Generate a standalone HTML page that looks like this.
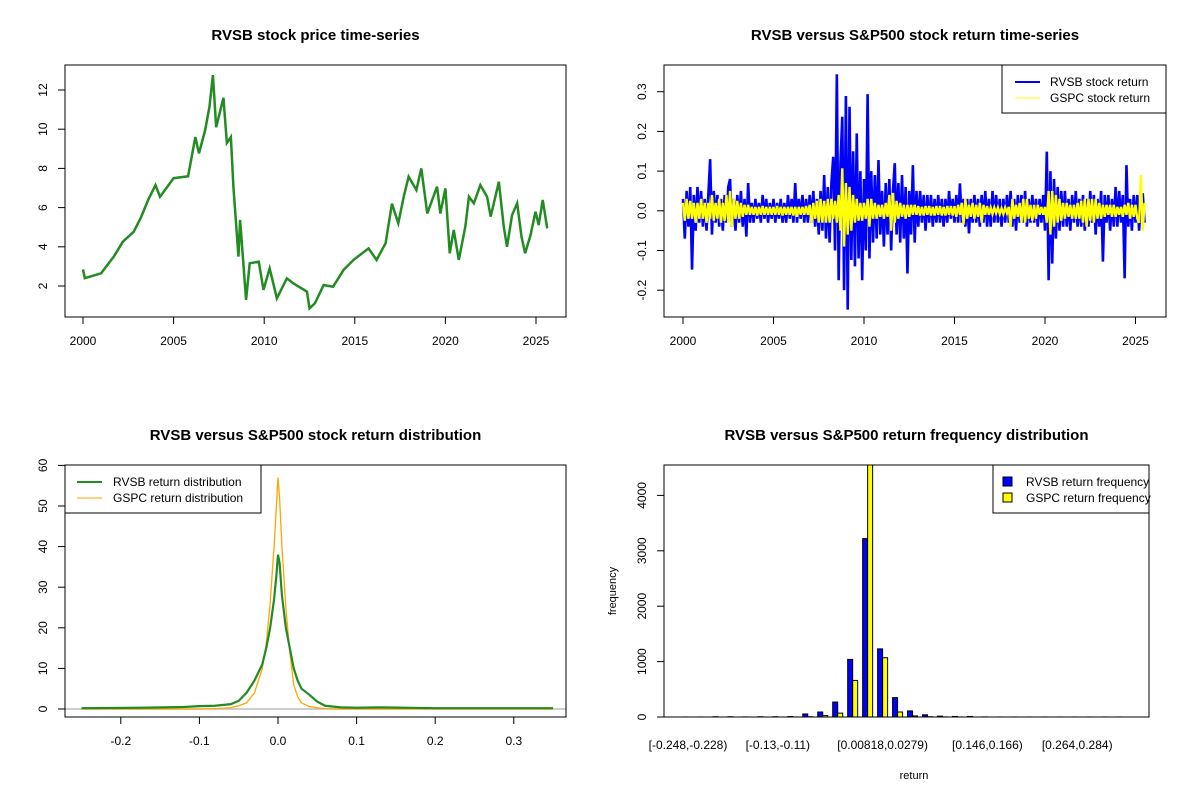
<!DOCTYPE html>
<html><head><meta charset="utf-8">
<style>
html,body{margin:0;padding:0;background:#fff;}
svg{display:block;font-family:"Liberation Sans",Arial,sans-serif;}
text{fill:#000;}
</style></head>
<body>
<svg id="chart" width="1200" height="800" viewBox="0 0 1200 800"></svg>
<script>
// ---------- DATA ----------
const priceYears = [2000.0,2000.1,2001.0,2001.7,2002.2,2002.8,2003.2,2003.6,2004.0,2004.25,2005.0,2005.8,2006.2,2006.4,2006.74,2006.98,2007.17,2007.35,2007.75,2007.94,2008.16,2008.3,2008.58,2008.67,2009.0,2009.2,2009.7,2009.96,2010.3,2010.7,2011.25,2011.6,2012.36,2012.5,2012.8,2013.28,2013.8,2014.38,2014.93,2015.76,2016.2,2016.7,2017.05,2017.4,2017.7,2017.97,2018.4,2018.67,2019.0,2019.54,2019.72,2020.0,2020.24,2020.46,2020.74,2021.1,2021.3,2021.57,2021.93,2022.3,2022.5,2022.95,2023.22,2023.4,2023.68,2023.96,2024.2,2024.4,2024.7,2024.97,2025.15,2025.37,2025.62];
const priceValues = [2.85,2.4,2.65,3.5,4.26,4.77,5.5,6.4,7.15,6.55,7.5,7.6,9.6,8.77,9.95,11.15,12.76,10.1,11.6,9.3,9.6,7.07,3.5,5.37,1.29,3.16,3.24,1.8,2.9,1.37,2.39,2.14,1.71,0.86,1.12,2.05,1.96,2.82,3.33,3.92,3.33,4.18,6.2,5.2,6.55,7.58,6.9,8.0,5.7,7.07,5.7,6.98,3.67,4.86,3.33,5.03,6.55,6.22,7.15,6.55,5.54,7.32,5.03,4.0,5.62,6.22,4.52,3.67,4.6,5.79,5.11,6.39,4.94];
const priceTicks = [2,4,6,8,10,12];
const yearTicks = [2000,2005,2010,2015,2020,2025];

// returns: one value per 0.1 year starting 2000.0
const rvsbReturns = [
0.03,-0.07,0.05,-0.04,0.06,-0.148,0.04,-0.05,0.06,-0.03,
0.05,-0.04,0.03,-0.05,0.04,0.13,-0.06,0.05,-0.03,0.04,
-0.04,0.03,-0.05,0.04,-0.03,0.06,0.08,-0.04,0.03,-0.05,
0.04,-0.03,0.05,-0.04,0.03,-0.065,0.07,-0.03,0.02,-0.03,
0.03,-0.02,0.02,-0.03,0.04,-0.02,0.03,-0.03,0.02,-0.02,
0.03,-0.03,0.02,-0.02,0.03,-0.03,0.02,-0.03,0.04,-0.02,
0.03,-0.03,0.07,-0.03,0.03,-0.02,0.04,-0.03,0.03,-0.03,
0.04,-0.03,0.05,-0.04,0.03,-0.06,0.05,-0.05,0.09,-0.07,
0.06,-0.08,0.07,0.136,-0.1,0.344,-0.175,0.12,0.237,-0.2,
0.289,-0.249,0.262,-0.124,0.15,-0.14,0.195,-0.12,0.1,-0.175,
0.08,-0.1,0.294,-0.12,0.1,-0.08,0.09,-0.07,0.128,-0.06,
0.05,-0.09,0.07,-0.06,0.08,-0.1,0.05,0.12,-0.06,0.07,
-0.08,0.09,-0.07,0.06,-0.158,0.05,-0.06,0.115,-0.08,0.05,
-0.04,0.05,-0.03,0.04,-0.05,0.04,-0.03,0.04,-0.04,0.03,
-0.03,0.04,-0.03,0.03,-0.04,0.03,-0.03,0.05,-0.02,0.03,
-0.03,0.04,-0.03,0.069,-0.03,0.03,-0.04,0.03,-0.057,0.03,
-0.03,0.04,-0.03,0.03,-0.04,0.04,-0.03,0.05,-0.04,0.03,
-0.04,0.05,-0.03,0.04,-0.03,0.03,-0.04,0.03,-0.03,0.04,
-0.03,0.05,-0.04,0.03,-0.05,0.04,-0.03,0.04,-0.03,0.05,
-0.04,0.03,-0.03,0.04,-0.03,0.03,-0.04,0.03,-0.03,0.04,
-0.05,0.149,-0.175,0.1,-0.133,0.08,-0.07,0.06,-0.05,0.05,
-0.04,0.05,-0.04,0.03,-0.05,0.04,-0.03,0.05,-0.04,0.03,
-0.04,0.04,-0.05,0.03,-0.04,0.05,-0.03,0.04,-0.06,0.03,
-0.04,0.05,-0.128,0.04,-0.03,0.04,-0.05,0.03,-0.04,0.06,
-0.04,0.05,-0.03,0.04,-0.17,0.115,-0.04,0.03,-0.05,0.04,
-0.03,0.04,-0.05,0.03,0.044,-0.03];
const gspcReturns = [
0.02,-0.025,0.03,-0.02,0.025,-0.02,0.02,-0.03,0.02,-0.02,
0.03,-0.02,0.02,-0.03,0.02,-0.02,0.04,-0.025,0.02,-0.02,
0.03,-0.03,0.02,-0.025,0.04,-0.03,0.05,-0.04,0.03,-0.02,
0.025,-0.02,0.02,-0.015,0.015,-0.01,0.015,-0.01,0.01,-0.01,
0.01,-0.012,0.01,-0.01,0.012,-0.01,0.01,-0.01,0.01,-0.01,
0.01,-0.01,0.012,-0.01,0.01,-0.012,0.01,-0.01,0.01,-0.01,
0.01,-0.012,0.01,-0.015,0.01,-0.01,0.01,-0.01,0.012,-0.01,
0.015,-0.03,0.02,-0.02,0.025,-0.03,0.03,-0.03,0.025,-0.03,
0.03,-0.03,0.03,-0.02,0.025,-0.03,0.04,-0.05,0.107,-0.09,
0.07,-0.06,0.06,-0.05,0.04,-0.03,0.03,-0.025,0.02,-0.025,
0.02,-0.02,0.03,-0.04,0.03,-0.02,0.02,-0.02,0.015,-0.015,
0.015,-0.02,0.02,-0.015,0.04,-0.05,0.045,-0.03,0.025,-0.02,
0.02,-0.015,0.015,-0.02,0.015,-0.015,0.015,-0.01,0.015,-0.01,
0.012,-0.012,0.01,-0.012,0.012,-0.01,0.012,-0.012,0.01,-0.012,
0.012,-0.01,0.012,-0.012,0.01,-0.012,0.012,-0.01,0.012,-0.012,
0.012,-0.015,0.015,-0.01,0.02,-0.035,0.03,-0.02,0.015,-0.015,
0.02,-0.02,0.015,-0.015,0.02,-0.03,0.015,-0.01,0.012,-0.01,
0.008,-0.008,0.008,-0.006,0.008,-0.008,0.006,-0.008,0.008,-0.006,
0.01,-0.04,0.03,-0.02,0.015,-0.015,0.02,-0.03,0.03,-0.03,
0.03,-0.02,0.015,-0.025,0.015,-0.02,0.015,-0.01,0.01,-0.01,
0.01,-0.03,0.05,-0.06,0.05,-0.04,0.04,-0.03,0.03,-0.025,
0.02,-0.02,0.02,-0.015,0.015,-0.02,0.015,-0.02,0.02,-0.02,
0.025,-0.03,0.03,-0.04,0.03,-0.025,0.03,-0.03,0.03,-0.02,
0.02,-0.02,0.015,-0.015,0.015,-0.01,0.015,-0.015,0.015,-0.015,
0.01,-0.01,0.01,-0.015,0.015,-0.01,0.02,-0.02,0.015,-0.015,
0.015,-0.02,-0.03,0.09,-0.05,0.02];
const returnTicks = [-0.2,-0.1,0.0,0.1,0.2,0.3];
const returnTickLabels = ["-0.2","-0.1","0.0","0.1","0.2","0.3"];

const densX = [-0.25,-0.175,-0.12,-0.1,-0.08,-0.06,-0.05,-0.04,-0.03,-0.02,-0.015,-0.01,-0.005,-0.002,0,0.002,0.005,0.01,0.015,0.02,0.025,0.03,0.04,0.05,0.06,0.08,0.1,0.13,0.2,0.35];
const rvsbDensity = [0.2,0.3,0.5,0.7,0.8,1.2,2,4,7,11,15,20,27,33,38,36,28,20,15,10,7,5,3.5,1.8,0.8,0.4,0.3,0.4,0.2,0.2];
const gspcDensity = [0,0,0,0,0.1,0.3,0.8,1.5,4,10,16,26,40,50,57,52,40,25,14,6,3,1.5,0.6,0.3,0.1,0,0,0,0,0];
const densXTicks = [-0.2,-0.1,0.0,0.1,0.2,0.3];
const densXLabels = ["-0.2","-0.1","0.0","0.1","0.2","0.3"];
const densYTicks = [0,10,20,30,40,50,60];

const rvsbFreq = [1,1,5,5,2,5,5,8,55,90,270,1040,3220,1230,350,110,40,15,10,10,2,1,1,1,1,1,1,1,1,1];
const gspcFreq = [0,0,0,0,0,0,0,1,5,25,70,660,4600,1070,90,20,5,2,1,0,0,0,0,0,0,0,0,0,0,0];
const freqLabelIdx = [0,6,13,20,26];
const freqLabels = ["[-0.248,-0.228)","[-0.13,-0.11)","[0.00818,0.0279)","[0.146,0.166)","[0.264,0.284)"];
const freqTicks = [0,1000,2000,3000,4000];

// ---------- HELPERS ----------
const NS="http://www.w3.org/2000/svg";
const svg=document.getElementById('chart');
function mk(tag,attrs,parent){const e=document.createElementNS(NS,tag);for(const k in attrs)e.setAttribute(k,attrs[k]);(parent||svg).appendChild(e);return e;}
function txt(s,x,y,size,opts){const o=Object.assign({'font-size':size,'text-anchor':'middle',x:x,y:y},opts||{});const t=mk('text',o);t.textContent=s;return t;}

const P1={l:65,r:566,t:65,b:317}, P2={l:664,r:1166,t:65,b:317}, P3={l:65,r:566,t:465,b:717}, P4={l:664,r:1149,t:465,b:717};
const xYear1=y=>83+(y-2000)*18.12, yPrice=v=>325.2-v*19.6;
const xYear2=y=>683+(y-2000)*18.1, yRet=v=>210.8-v*397;
const xDens=v=>278+v*786, yDens=v=>709-v*4.06;
const yFreq=v=>717-v*0.0554, xGroup=i=>683+i*14.97;

function box(P,name){const r=mk('rect',{x:P.l,y:P.t,width:P.r-P.l,height:P.b-P.t,fill:'none',stroke:'#000','stroke-width':1});}
function title(s,P,name){const t=txt(s,(P.l+P.r)/2,P.t-25,15,{'font-weight':'bold'});}
function xAxis(P,ticks,labels,fx,name){const g=mk('g',{});
 mk('line',{x1:fx(ticks[0]),x2:fx(ticks[ticks.length-1]),y1:P.b,y2:P.b,stroke:'#000'},g);
 ticks.forEach((t,i)=>{mk('line',{x1:fx(t),x2:fx(t),y1:P.b,y2:P.b+7,stroke:'#000'},g);const tt=txt(labels[i],fx(t),P.b+28,12);g.appendChild(tt);});}
function yAxis(P,ticks,labels,fy,name){const g=mk('g',{});
 mk('line',{x1:P.l,x2:P.l,y1:fy(ticks[0]),y2:fy(ticks[ticks.length-1]),stroke:'#000'},g);
 ticks.forEach((t,i)=>{const y=fy(t);mk('line',{x1:P.l-7,x2:P.l,y1:y,y2:y,stroke:'#000'},g);const tt=txt(labels[i],P.l-18,y,12,{transform:`rotate(-90 ${P.l-18} ${y})`});g.appendChild(tt);});}
function poly(xs,ys,fx,fy,stroke,w,name,clip){const pts=xs.map((x,i)=>fx(x).toFixed(2)+','+fy(ys[i]).toFixed(2)).join(' ');const a={points:pts,fill:'none',stroke:stroke,'stroke-width':w,'stroke-linejoin':'miter'};if(clip)a['clip-path']=clip;const p=mk('polyline',a);}

const defs=mk('defs',{});
[P1,P2,P3,P4].forEach((P,i)=>{const c=mk('clipPath',{id:'c'+i},defs);mk('rect',{x:P.l,y:P.t,width:P.r-P.l,height:P.b-P.t},c);});

// ---------- PANEL 1 ----------
title('RVSB stock price time-series',P1,'price-chart-title');
poly(priceYears,priceValues,xYear1,yPrice,'#228B22',2.5,'rvsb-price-line','url(#c0)');
box(P1,'price-plot-frame');
xAxis(P1,yearTicks,yearTicks.map(String),xYear1,'price-x-axis');
yAxis(P1,priceTicks,priceTicks.map(String),yPrice,'price-y-axis');

// ---------- PANEL 2 ----------
title('RVSB versus S&P500 stock return time-series',P2,'return-chart-title');
const retYearsR=rvsbReturns.map((_,i)=>2000+i*0.1);
const retYearsG=gspcReturns.map((_,i)=>2000+i*0.1);
poly(retYearsR,rvsbReturns,xYear2,yRet,'#0000FF',2.6,'rvsb-return-line','url(#c1)');
poly(retYearsG,gspcReturns,xYear2,yRet,'#FFFF00',2.4,'gspc-return-line','url(#c1)');
box(P2,'return-plot-frame');
xAxis(P2,yearTicks,yearTicks.map(String),xYear2,'return-x-axis');
yAxis(P2,returnTicks,returnTickLabels,yRet,'return-y-axis');
{const g=mk('g',{});
 mk('rect',{x:1002,y:65,width:164,height:48,fill:'#fff',stroke:'#000'},g);
 mk('line',{x1:1015,x2:1040,y1:82,y2:82,stroke:'#0000FF','stroke-width':2},g);
 mk('line',{x1:1015,x2:1040,y1:98,y2:98,stroke:'#FFFF00','stroke-width':1},g);
 g.appendChild(txt('RVSB stock return',1050,86,12,{'text-anchor':'start'}));
 g.appendChild(txt('GSPC stock return',1050,102,12,{'text-anchor':'start'}));}

// ---------- PANEL 3 ----------
title('RVSB versus S&P500 stock return distribution',P3,'distribution-chart-title');
{const l=mk('line',{x1:P3.l,x2:P3.r,y1:yDens(0),y2:yDens(0),stroke:'#BEBEBE','stroke-width':1.5});}
poly(densX,gspcDensity,xDens,yDens,'#FFA500',1.3,'gspc-density-line','url(#c2)');
poly(densX,rvsbDensity,xDens,yDens,'#228B22',2.2,'rvsb-density-line','url(#c2)');
box(P3,'distribution-plot-frame');
xAxis(P3,densXTicks,densXLabels,xDens,'distribution-x-axis');
yAxis(P3,densYTicks,densYTicks.map(String),yDens,'distribution-y-axis');
{const g=mk('g',{});
 mk('rect',{x:65,y:465,width:196,height:48,fill:'#fff',stroke:'#000'},g);
 mk('line',{x1:77,x2:102,y1:482,y2:482,stroke:'#228B22','stroke-width':2},g);
 mk('line',{x1:77,x2:102,y1:498,y2:498,stroke:'#FFA500','stroke-width':1},g);
 g.appendChild(txt('RVSB return distribution',113,486,12,{'text-anchor':'start'}));
 g.appendChild(txt('GSPC return distribution',113,502,12,{'text-anchor':'start'}));}

// ---------- PANEL 4 ----------
title('RVSB versus S&P500 return frequency distribution',P4,'frequency-chart-title');
{const g=mk('g',{'clip-path':'url(#c3)'});
 rvsbFreq.forEach((v,i)=>{const x=xGroup(i);const b=mk('rect',{x:x,y:yFreq(v),width:5,height:717-yFreq(v),fill:'#0000FF',stroke:'#000','stroke-width':1},g);
  
  });
 gspcFreq.forEach((v,i)=>{const x=xGroup(i)+5;const b=mk('rect',{x:x,y:yFreq(v),width:5,height:717-yFreq(v),fill:'#FFFF00',stroke:'#000','stroke-width':1},g);
  
  });}
box(P4,'frequency-plot-frame');
yAxis(P4,freqTicks,freqTicks.map(String),yFreq,'frequency-y-axis');
{const g=mk('g',{});
 freqLabelIdx.forEach((idx,k)=>{g.appendChild(txt(freqLabels[k],xGroup(idx)+5,749,12));});}
{const t=txt('return',914,779,11);
 const t2=txt('frequency',616,591,11,{transform:'rotate(-90 616 591)'});}
{const g=mk('g',{});
 mk('rect',{x:993,y:465,width:156,height:48,fill:'#fff',stroke:'#000'},g);
 mk('rect',{x:1003,y:477,width:9,height:9,fill:'#0000FF',stroke:'#000'},g);
 mk('rect',{x:1003,y:493,width:9,height:9,fill:'#FFFF00',stroke:'#000'},g);
 g.appendChild(txt('RVSB return frequency',1026,486,12,{'text-anchor':'start'}));
 g.appendChild(txt('GSPC return frequency',1026,502,12,{'text-anchor':'start'}));}
</script>
</body></html>
